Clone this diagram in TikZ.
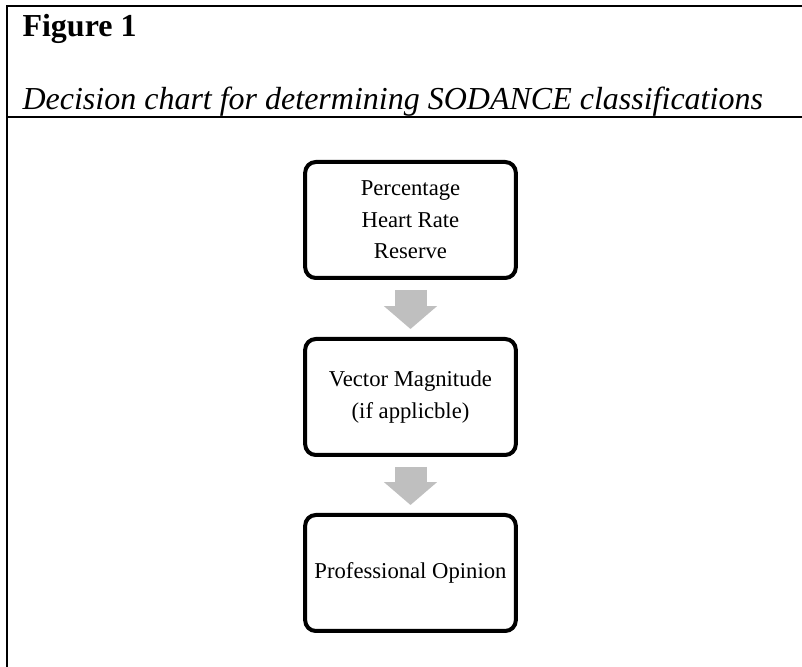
\documentclass[tikz,border=0pt]{standalone}
\usepackage{fontspec}
\setmainfont{Liberation Serif}
\usetikzlibrary{arrows.meta}

\definecolor{arrowgray}{RGB}{191,191,191}

\tikzset{
	stagebox/.style={draw, line width=1.5pt, rounded corners=4pt, minimum width=79pt,
		minimum height=43.5pt, inner sep=0pt, align=center,
		font=\fontsize{8.5}{11.8}\selectfont},
	flowarrow/.style={draw=arrowgray, line width=12pt,
		-{Triangle[width=19.5pt,length=8.6pt]}, shorten <=3.75pt, shorten >=3pt}
}

\begin{document}
\begin{tikzpicture}[x=0.375pt,y=-0.375pt]

	\useasboundingbox (0,0) rectangle (802,667);

	\coordinate (tl) at (7,6.5);
	\coordinate (tr) at (802,6.5);
	\coordinate (bl) at (7,667);
	\coordinate (ml) at (7,117.5);
	\coordinate (mr) at (802,117.5);

	\draw[line width=0.75pt] (tr) -- (tl) -- (bl);
	\draw[line width=0.75pt] (ml) -- (mr);

	\node[anchor=base west, inner sep=0pt, font=\fontsize{12}{14}\selectfont\bfseries] (fig) at (22,37) {Figure 1};
	\node[anchor=base west, inner sep=0pt, font=\fontsize{12}{14}\selectfont\itshape] (cap) at (22,110) {Decision chart for determining SODANCE classifications};

	\node[stagebox] (hrr) at (410.5,220) {Percentage\\Heart Rate\\Reserve};
	\node[stagebox] (vm) at (410.5,397) {Vector Magnitude\\(if applicble)};
	\node[stagebox] (po) at (410.5,573) {Professional Opinion};

	\draw[flowarrow] (hrr) -- (vm);
	\draw[flowarrow] (vm) -- (po);

\end{tikzpicture}
\end{document}
